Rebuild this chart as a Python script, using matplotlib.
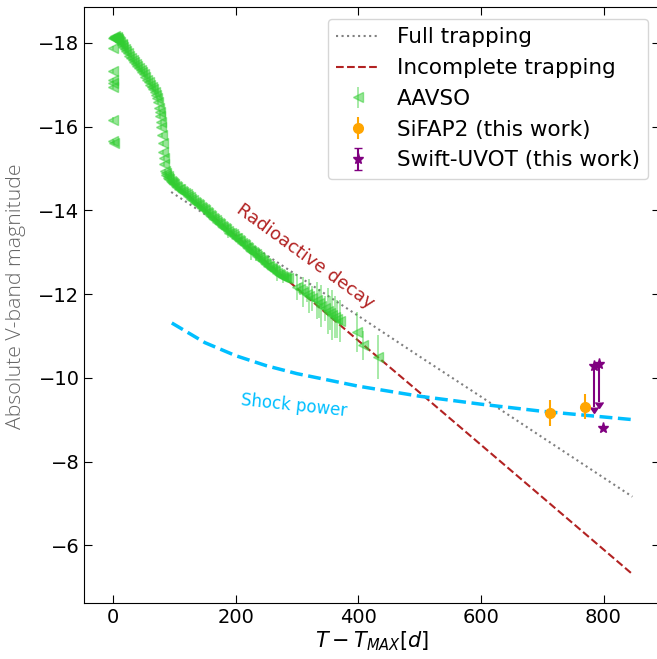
import matplotlib
matplotlib.use("Agg")
import matplotlib.pyplot as plt

# ── data ──────────────────────────────────────────────────────────────────────

aavso_t = [
    0, 0, 0, 0, 0, 0, 0, 1,
    0, 1, 2, 3, 4, 5, 6, 7, 8, 9, 10, 12, 14,
    15, 17, 20, 22, 25, 27, 30, 33, 35, 38, 40, 43, 45, 48, 50, 53, 55, 58, 60,
    63, 65, 68, 70, 72, 73, 75, 76, 77, 78, 79, 80, 81, 82, 83, 84, 85, 86, 87,
    89, 90, 92, 94, 96, 98,
    100, 103, 105, 108, 110, 113, 115, 118, 120, 123, 125, 128, 130, 133, 135,
    138, 140, 143, 145, 148, 150, 153, 155, 158, 160, 163, 165, 168, 170, 173,
    175, 178, 180, 183, 185, 188, 190, 193, 195, 198, 200, 203, 205, 208, 210,
    213, 215, 218, 220, 223, 225, 228, 230, 233, 235, 238, 240, 243, 245, 248,
    250, 253, 255, 258, 260, 263, 265, 268, 270, 273, 275, 278, 280, 283, 285,
    300, 305, 310, 316, 320, 325, 332, 336, 340, 345, 350, 354, 358, 362, 366,
    370, 398, 408, 433,
]
aavso_mag = [
    -17.88, -17.33, -17.12, -17.05, -16.95, -16.17, -15.65, -15.62,
    -18.12, -18.15, -18.13, -18.16, -18.12, -18.10, -18.14, -18.11, -18.08,
    -18.10, -18.05, -18.02, -17.98,
    -17.95, -17.90, -17.85, -17.80, -17.75, -17.70, -17.65, -17.60, -17.55,
    -17.50, -17.45, -17.40, -17.35, -17.30, -17.25, -17.18, -17.12, -17.06,
    -17.00, -16.95, -16.90, -16.82, -16.75, -16.68, -16.60, -16.45, -16.35,
    -16.25, -16.12, -16.00, -15.80, -15.60, -15.40, -15.25, -15.10, -14.95,
    -14.90, -14.85, -14.82, -14.78, -14.75, -14.70, -14.68, -14.65,
    -14.62, -14.58, -14.55, -14.52, -14.50, -14.47, -14.44, -14.42, -14.40,
    -14.35, -14.31, -14.28, -14.25, -14.20, -14.17, -14.15, -14.12, -14.09,
    -14.06, -14.03, -14.00, -13.96, -13.93, -13.90, -13.86, -13.83, -13.80,
    -13.76, -13.72, -13.70, -13.67, -13.63, -13.60, -13.58, -13.55, -13.50,
    -13.47, -13.45, -13.43, -13.38, -13.35, -13.33, -13.30, -13.26, -13.22,
    -13.20, -13.18, -13.13, -13.10, -13.05, -13.02, -13.00, -12.98, -12.95,
    -12.92, -12.88, -12.85, -12.82, -12.78, -12.75, -12.72, -12.68, -12.66,
    -12.63, -12.60, -12.58, -12.55, -12.51, -12.48, -12.46, -12.44, -12.42,
    -12.40, -12.39, -12.38,
    -12.17, -12.12, -12.05, -12.00, -11.95, -11.90, -11.85, -11.78, -11.72,
    -11.66, -11.60, -11.55, -11.50, -11.45, -11.40, -11.35, -11.10, -10.78,
    -10.50,
]
aavso_err = (
    [0.05] * 65                       # peak and early decline
    + [0.05] * 35                     # t = 100 .. 183
    + [0.15, 0.05, 0.05, 0.05, 0.05]  # t = 185 .. 195
    + [0.05] * 10                     # t = 198 .. 220
    + [0.20, 0.05, 0.05, 0.15, 0.05]  # t = 223 .. 233
    + [0.05] * 10                     # t = 235 .. 258
    + [0.10, 0.05, 0.20, 0.05, 0.05, 0.05, 0.15, 0.05, 0.05, 0.10]
    + [0.30, 0.15, 0.35, 0.20, 0.40, 0.30, 0.45, 0.35, 0.50, 0.30, 0.55,
       0.40, 0.60, 0.50, 0.45, 0.50, 0.48, 0.35, 0.53]
)

sifap_t = [712, 770]
sifap_mag = [-9.17, -9.31]
sifap_err = [0.31, 0.30]

uvot_t = [785, 793, 799]
uvot_mag = [-10.28, -10.34, -8.81]
uvot_err = [0.97, 0.91, 0.0]
uvot_lim = [True, True, False]

full_t = [95, 200, 300, 400, 500, 600, 700, 847]
full_mag = [-14.44, -13.42, -12.45, -11.48, -10.51, -9.55, -8.58, -7.16]

incomp_t = [95, 200, 300, 400, 500, 600, 700, 847]
incomp_mag = [-14.70, -13.39, -12.14, -10.89, -9.65, -8.40, -7.15, -5.31]

shock_t = [96, 150, 200, 250, 300, 400, 500, 600, 700, 848]
shock_mag = [-11.31, -10.84, -10.53, -10.29, -10.10, -9.80, -9.56, -9.37,
             -9.20, -9.00]

# ── figure ────────────────────────────────────────────────────────────────────

fig = plt.figure(figsize=(6.57, 6.59), dpi=100)
ax = fig.add_axes([0.1285, 0.085, 0.876, 0.9044])
ax.set_xlim(-46.5, 892)
ax.set_ylim(-4.62, -18.86)   # magnitudes: brighter up

ax.plot(full_t, full_mag, color="gray", linestyle=":", linewidth=1.5,
        label="Full trapping")
ax.plot(incomp_t, incomp_mag, color="#b22222", linestyle="--", linewidth=1.5,
        label="Incomplete trapping")
ax.plot(shock_t, shock_mag, color="#00bfff", linestyle="--", linewidth=2.5)

ax.errorbar(aavso_t, aavso_mag, yerr=aavso_err, fmt="<", color="limegreen",
            alpha=0.5, markersize=7, linewidth=1.2, label="AAVSO")
ax.errorbar(sifap_t, sifap_mag, yerr=sifap_err, fmt="o", color="orange",
            markersize=7, linewidth=1.5, label="SiFAP2 (this work)")
ax.errorbar(uvot_t, uvot_mag, yerr=uvot_err, lolims=uvot_lim, fmt="*",
            color="purple", markersize=8, linewidth=1.5,
            label="Swift-UVOT (this work)")

ax.text(313, -12.91, "Radioactive decay", color="#b22222", fontsize=13,
        rotation=-36, ha="center", va="center", rotation_mode="anchor")
ax.text(295, -9.34, "Shock power", color="#00bfff", fontsize=12,
        rotation=-6, ha="center", va="center", rotation_mode="anchor")

ax.set_xticks([0, 200, 400, 600, 800])
ax.set_yticks([-18, -16, -14, -12, -10, -8, -6])
ax.tick_params(direction="in", top=True, right=True, labelsize=14, length=6)
ax.set_xlabel(r"$T - T_{MAX} [d]$", fontsize=15, labelpad=2)
ax.set_ylabel("Absolute V-band magnitude", fontsize=15.3, color="#666666",
              family=["Open Sans", "DejaVu Sans"], fontweight="light")
ax.yaxis.set_label_coords(-0.1015, 0.515)

ax.legend(loc="upper right", fontsize=15.5, borderaxespad=0.55)

plt.savefig("out.png", dpi=100)
plt.close()
